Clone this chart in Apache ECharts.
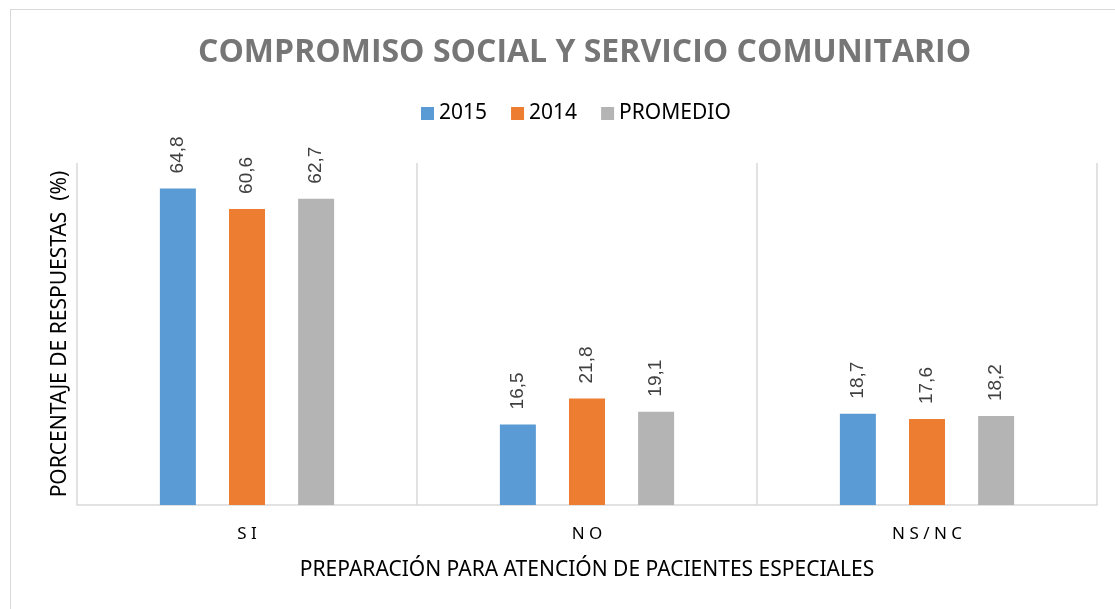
<!DOCTYPE html>
<html>
<head>
<meta charset="utf-8">
<script src="https://cdn.jsdelivr.net/npm/echarts@6/dist/echarts.min.js"></script>
<style>
  html, body { margin: 0; padding: 0; background: #fff; }
  #frame { position: absolute; left: 10px; top: 9px; width: 1120px; height: 620px; border: 1px solid #d9d9d9; }
  #chart { position: absolute; left: 0; top: 0; width: 1115px; height: 609px; }
</style>
</head>
<body>
<div id="frame"></div>
<div id="chart"></div>
<script>
const categories = ['SI', 'NO', 'NS/NC'];
const seriesNames = ['2015', '2014', 'PROMEDIO'];
const values2015 = [64.8, 16.5, 18.7];
const values2014 = [60.6, 21.8, 17.6];
const valuesPromedio = [62.7, 19.1, 18.2];
const colors = ['#5b9bd5', '#ed7d31', '#b4b4b4'];

const chart = echarts.init(document.getElementById('chart'));

function barSeries(name, data, color) {
  return {
    name: name,
    type: 'bar',
    data: data,
    barWidth: 36,
    barGap: '92%',
    itemStyle: { color: color },
    label: {
      show: true,
      position: 'top',
      rotate: 90,
      align: 'left',
      verticalAlign: 'middle',
      distance: 15,
      fontFamily: 'Liberation Sans',
      fontSize: 19,
      color: '#404040',
      formatter: p => String(p.value).replace('.', ',')
    }
  };
}

chart.setOption({
  animation: false,
  color: colors,
  title: {
    text: 'COMPROMISO SOCIAL Y SERVICIO COMUNITARIO',
    left: 193,
    top: 32,
    textStyle: { fontFamily: 'Open Sans', fontWeight: 'bold', fontSize: 32, color: '#767676' }
  },
  legend: {
    top: 98,
    left: 416,
    itemWidth: 13,
    itemHeight: 13,
    itemGap: 24,
    icon: 'rect',
    textStyle: { fontFamily: 'Noto Sans', fontSize: 21, color: '#000' },
    data: seriesNames
  },
  grid: { left: 77, right: 18, top: 163, bottom: 104 },
  xAxis: {
    type: 'category',
    data: categories,
    axisLine: { lineStyle: { color: '#d9d9d9', width: 1.5 } },
    axisTick: { show: false },
    splitLine: { show: true, lineStyle: { color: '#d9d9d9', width: 1.5 } },
    axisLabel: {
      margin: 21,
      fontFamily: 'Noto Sans',
      fontSize: 17,
      color: '#000',
      formatter: v => v.split('').join(' ')
    },
    name: 'PREPARACIÓN PARA ATENCIÓN DE PACIENTES ESPECIALES',
    nameLocation: 'middle',
    nameGap: 55,
    nameTextStyle: { fontFamily: 'Noto Sans', fontSize: 21, color: '#000' }
  },
  yAxis: {
    type: 'value',
    min: 0,
    max: 70,
    axisLine: { show: false },
    axisTick: { show: false },
    axisLabel: { show: false },
    splitLine: { show: false },
    name: 'PORCENTAJE DE RESPUESTAS  (%)',
    nameLocation: 'middle',
    nameGap: 6,
    nameTextStyle: { fontFamily: 'Noto Sans', fontSize: 21, color: '#000' }
  },
  series: [
    barSeries(seriesNames[0], values2015, colors[0]),
    barSeries(seriesNames[1], values2014, colors[1]),
    barSeries(seriesNames[2], valuesPromedio, colors[2])
  ]
});
</script>
</body>
</html>
